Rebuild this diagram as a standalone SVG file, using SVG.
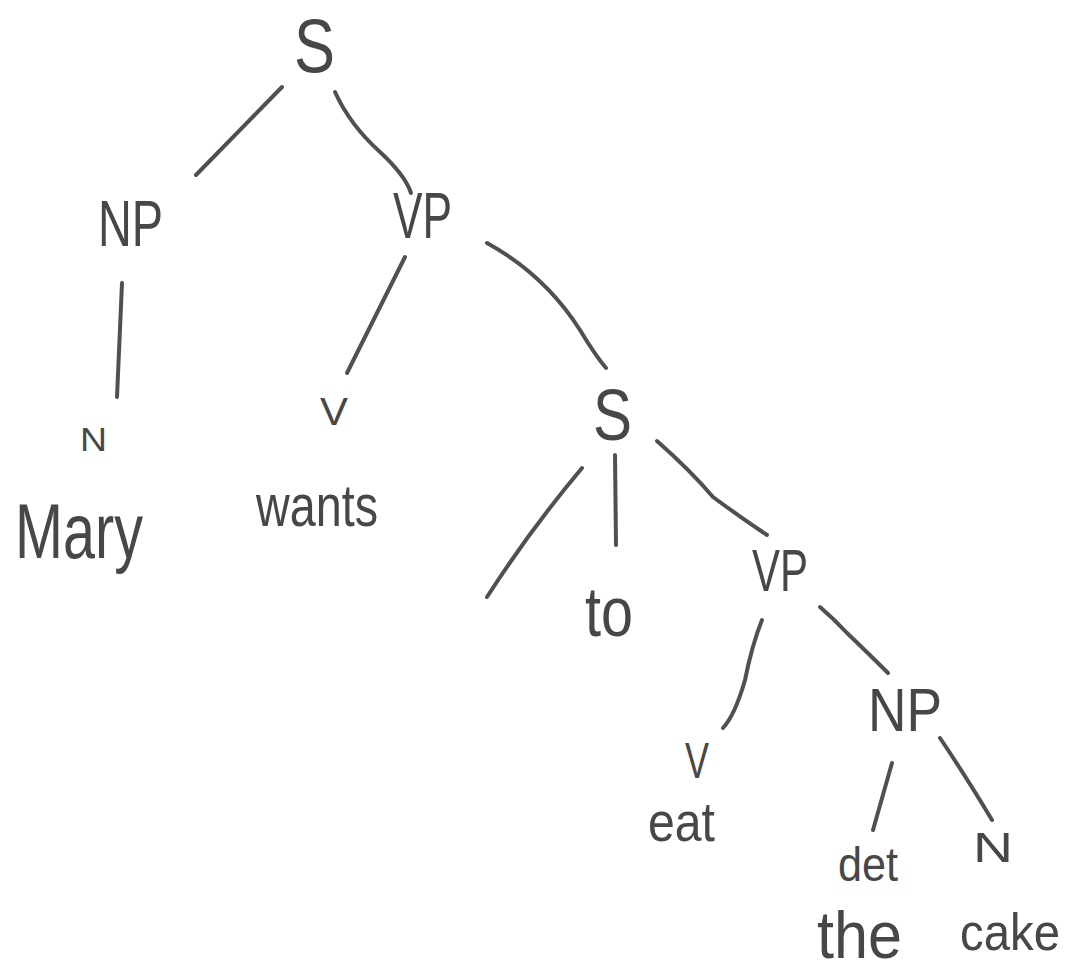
<svg xmlns="http://www.w3.org/2000/svg" width="1071" height="975" viewBox="0 0 1071 975">
<style>
.t{font-family:"Liberation Sans","DejaVu Sans",sans-serif;fill:#474747;}
.c{fill:none;stroke:#505050;stroke-width:4;stroke-linecap:round;}
</style>
<rect width="1071" height="975" fill="#ffffff"/>
<g id="connectors">
<path class="c" d="M282 87 L196 175"/>
<path class="c" d="M335 92 Q350 125 380 152 Q405 175 411 193"/>
<path class="c" d="M122 283 L117 397"/>
<path class="c" d="M405 257 L347 373"/>
<path class="c" d="M487 243 Q545 275 580 330 Q595 355 606 368"/>
<path class="c" d="M582 468 Q530 530 487 597"/>
<path class="c" d="M615 455 L616 545"/>
<path class="c" d="M657 441 Q690 470 713 497 Q740 517 767 535"/>
<path class="c" d="M762 620 Q752 645 745 680 Q735 715 723 728"/>
<path class="c" d="M820 607 Q835 620 847 633 Q870 655 888 673"/>
<path class="c" d="M892 763 L873 830"/>
<path class="c" d="M940 738 Q965 775 992 820"/>
</g>
<g id="node-S-top"><text class="t" x="294" y="72" font-size="76" textLength="41" lengthAdjust="spacingAndGlyphs">S</text></g>
<g id="node-NP"><text class="t" x="98" y="246" font-size="64" textLength="65" lengthAdjust="spacingAndGlyphs">NP</text></g>
<g id="node-VP"><text class="t" x="393" y="238" font-size="64" textLength="59" lengthAdjust="spacingAndGlyphs">VP</text></g>
<g id="node-N-Mary"><text class="t" x="80" y="451" font-size="34" textLength="27" lengthAdjust="spacingAndGlyphs">N</text></g>
<g id="node-Mary"><text class="t" x="15" y="558" font-size="78" textLength="128" lengthAdjust="spacingAndGlyphs">Mary</text></g>
<g id="node-V-wants"><text class="t" x="320" y="425" font-size="38" textLength="28" lengthAdjust="spacingAndGlyphs">V</text></g>
<g id="node-wants"><text class="t" x="256" y="526" font-size="60" textLength="122" lengthAdjust="spacingAndGlyphs">wants</text></g>
<g id="node-S-mid"><text class="t" x="593" y="440" font-size="72" textLength="39" lengthAdjust="spacingAndGlyphs">S</text></g>
<g id="node-to"><text class="t" x="585" y="636" font-size="70" textLength="48" lengthAdjust="spacingAndGlyphs">to</text></g>
<g id="node-VP-low"><text class="t" x="752" y="591" font-size="60" textLength="56" lengthAdjust="spacingAndGlyphs">VP</text></g>
<g id="node-V-eat"><text class="t" x="685" y="778" font-size="50" textLength="24" lengthAdjust="spacingAndGlyphs">V</text></g>
<g id="node-eat"><text class="t" x="648" y="841" font-size="56" textLength="67" lengthAdjust="spacingAndGlyphs">eat</text></g>
<g id="node-NP-low"><text class="t" x="868" y="731" font-size="62" textLength="74" lengthAdjust="spacingAndGlyphs">NP</text></g>
<g id="node-det"><text class="t" x="838" y="881" font-size="48" textLength="60" lengthAdjust="spacingAndGlyphs">det</text></g>
<g id="node-the"><text class="t" x="817" y="958" font-size="66" textLength="85" lengthAdjust="spacingAndGlyphs">the</text></g>
<g id="node-N-cake"><text class="t" x="973" y="862" font-size="42" textLength="40" lengthAdjust="spacingAndGlyphs">N</text></g>
<g id="node-cake"><text class="t" x="960" y="950" font-size="52" textLength="100" lengthAdjust="spacingAndGlyphs">cake</text></g>
</svg>
